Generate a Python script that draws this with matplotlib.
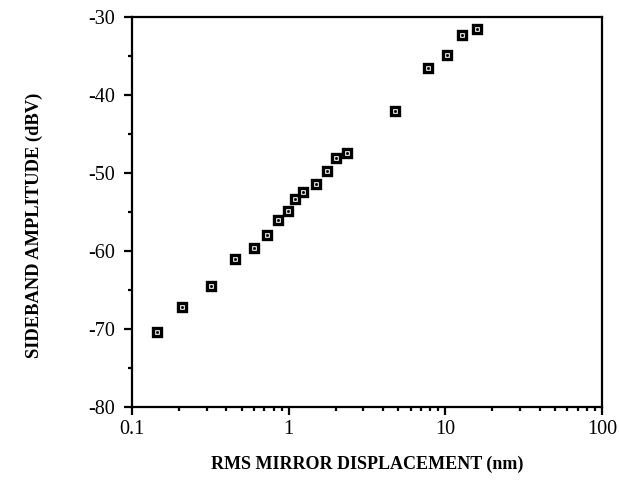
import numpy as np
import matplotlib.pyplot as plt
from matplotlib.ticker import MultipleLocator, FixedLocator, LogLocator, NullFormatter

# RMS mirror displacement (nm) and sideband amplitude (dBV)
displacement = [0.144, 0.209, 0.318, 0.451, 0.60, 0.726, 0.85, 0.996, 1.09,
                1.24, 1.50, 1.76, 2.01, 2.34, 4.80, 7.78, 10.3, 12.7, 16.0]
amplitude = [-70.4, -67.2, -64.5, -61.0, -59.6, -58.0, -56.0, -54.9, -53.3,
             -52.4, -51.4, -49.7, -48.1, -47.5, -42.1, -36.6, -34.9, -32.3, -31.5]

x_ticks = [0.1, 1, 10, 100]
x_tick_labels = ['0.1', '1', '10', '100']
y_ticks = [-80, -70, -60, -50, -40, -30]

plt.rcParams['font.family'] = ['Liberation Serif', 'DejaVu Serif']
plt.rcParams['axes.unicode_minus'] = False

fig = plt.figure(figsize=(6.19, 4.84), dpi=100)
ax = fig.add_axes([0.2133, 0.159, 0.7592, 0.806])

ax.plot(displacement, amplitude, linestyle='none', marker='s', markersize=6,
        markerfacecolor='white', markeredgecolor='black', markeredgewidth=2.4)
ax.plot(displacement, amplitude, linestyle='none', marker='s', markersize=1.0,
        color='black')

ax.set_xscale('log')
ax.set_xlim(0.1, 100)
ax.set_ylim(-80, -30)

ax.xaxis.set_major_locator(FixedLocator(x_ticks))
ax.set_xticklabels(x_tick_labels)
ax.xaxis.set_minor_locator(LogLocator(base=10, subs=np.arange(2, 10)))
ax.xaxis.set_minor_formatter(NullFormatter())
ax.set_yticks(y_ticks)
ax.yaxis.set_minor_locator(MultipleLocator(5))

for s in ax.spines.values():
    s.set_linewidth(1.6)

ax.tick_params(which='major', direction='out', length=6, width=1.6,
               labelsize=14.5, top=False, right=False)
ax.tick_params(axis='y', which='major', pad=6)
ax.tick_params(which='minor', direction='out', length=3, width=1.6,
               top=False, right=False)

ax.set_xlabel('RMS MIRROR DISPLACEMENT (nm)', fontsize=13, fontweight='bold')
ax.set_ylabel('SIDEBAND AMPLITUDE (dBV)', fontsize=13.3, fontweight='bold')
ax.xaxis.set_label_coords(0.5, -0.125)
ax.yaxis.set_label_coords(-0.19, 0.467)

fig.savefig('out.png', dpi=100)
